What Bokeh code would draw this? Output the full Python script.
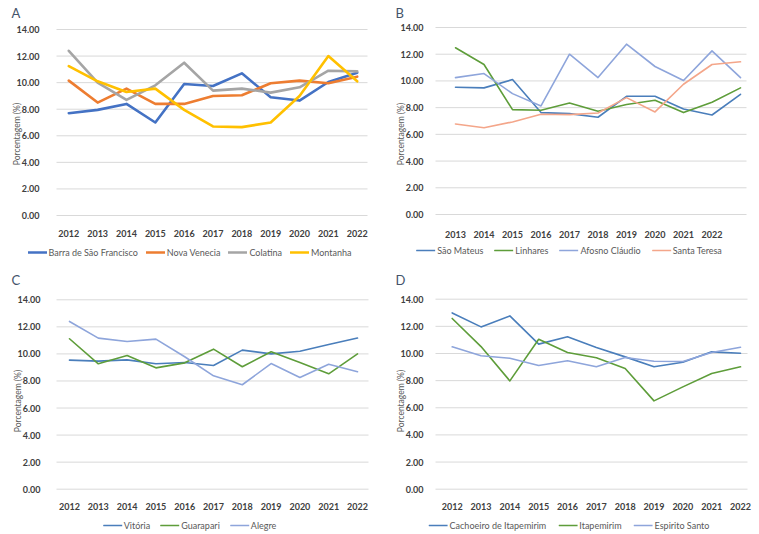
from bokeh.plotting import figure
from bokeh.models import (Range1d, FixedTicker, PrintfTickFormatter,
                          Legend, LegendItem, Label)
from bokeh.layouts import column, row
from bokeh.embed import file_html
from bokeh.resources import INLINE

# ---------------- data ----------------
years = ["2012", "2013", "2014", "2015", "2016", "2017", "2018", "2019", "2020", "2021", "2022"]
years_b = ["2013", "2014", "2015", "2016", "2017", "2018", "2019", "2020", "2021", "2022", " "]
y_ticks = [0, 2, 4, 6, 8, 10, 12, 14]

# Panel A
barra_sao_francisco = [7.70, 7.95, 8.40, 7.00, 9.90, 9.75, 10.70, 8.90, 8.65, 10.05, 10.75]
nova_venecia = [10.15, 8.50, 9.55, 8.40, 8.40, 9.00, 9.05, 9.95, 10.15, 9.95, 10.45]
colatina = [12.40, 10.00, 8.70, 9.80, 11.50, 9.40, 9.55, 9.25, 9.65, 10.90, 10.85]
montanha = [11.25, 10.10, 9.30, 9.55, 7.95, 6.70, 6.65, 7.00, 9.00, 12.00, 10.10]

# Panel B
sao_mateus = [9.53, 9.48, 10.10, 7.63, 7.55, 7.28, 8.85, 8.85, 7.90, 7.45, 9.00]
linhares = [12.48, 11.23, 7.85, 7.80, 8.35, 7.73, 8.23, 8.55, 7.63, 8.40, 9.48]
afosno_claudio = [10.25, 10.55, 9.05, 8.13, 12.00, 10.25, 12.75, 11.08, 10.03, 12.25, 10.25]
santa_teresa = [6.78, 6.50, 6.93, 7.50, 7.48, 7.60, 8.75, 7.68, 9.75, 11.23, 11.43]

# Panel C
vitoria = [9.54, 9.47, 9.56, 9.27, 9.37, 9.14, 10.28, 10.00, 10.20, 10.70, 11.17]
guarapari = [11.12, 9.27, 9.88, 8.97, 9.34, 10.35, 9.05, 10.16, 9.37, 8.53, 10.00]
alegre = [12.40, 11.17, 10.92, 11.09, 9.79, 8.38, 7.72, 9.29, 8.26, 9.24, 8.68]

# Panel D
cachoeiro = [12.99, 11.96, 12.77, 10.69, 11.23, 10.44, 9.75, 9.02, 9.36, 10.12, 10.02]
itapemirim = [12.58, 10.51, 7.98, 11.05, 10.07, 9.68, 8.89, 6.51, 7.54, 8.52, 9.02]
espirito_santo = [10.49, 9.83, 9.65, 9.11, 9.46, 9.02, 9.70, 9.43, 9.41, 10.07, 10.46]

FONT = "Lato"
TXT = "#404040"
H = 267


def make_panel(letter, cats, names, series, colors, lw, width,
               cx0, dcx, top_px, zero_px, grid_px, yaxis_px, letter_px,
               leg_margin, leg_spacing):
    # pixel layout -> data ranges (plot frame covers the whole panel)
    x_lo = -cx0 / dcx
    x_hi = (width - cx0) / dcx
    s = (zero_px - top_px) / 14.0
    y_hi = 14 + top_px / s
    y_lo = -(H - zero_px) / s

    xs = list(range(len(cats)))
    p = figure(x_range=Range1d(x_lo, x_hi), y_range=Range1d(y_lo, y_hi),
               width=width, height=H,
               min_border_left=0, min_border_right=0,
               min_border_top=0, min_border_bottom=0,
               output_backend="svg", toolbar_location=None, tools="")
    p.outline_line_color = None
    p.background_fill_color = "white"
    p.border_fill_color = "white"
    p.grid.visible = False

    p.add_layout(Label(x=x_lo + letter_px[0] / dcx, y=y_hi - letter_px[1] / s,
                       text=letter, text_font=FONT, text_font_size="13px",
                       text_color="#44546A", text_baseline="top", text_align="left"))

    # horizontal gridlines over the plot area only
    g0 = (grid_px[0] - cx0) / dcx
    g1 = (grid_px[1] - cx0) / dcx
    p.segment(x0=[g0] * len(y_ticks), x1=[g1] * len(y_ticks),
              y0=y_ticks, y1=y_ticks, line_color="#d9d9d9", line_width=1)

    for ax in (p.xaxis[0], p.yaxis[0]):
        ax.axis_line_color = None
        ax.major_tick_line_color = None
        ax.minor_tick_line_color = None
        ax.major_label_text_font = FONT
        ax.major_label_text_font_size = "9px"
        ax.major_label_text_font_style = "bold"
        ax.major_label_text_color = TXT

    p.yaxis[0].fixed_location = (yaxis_px - cx0) / dcx
    p.yaxis[0].ticker = FixedTicker(ticks=y_ticks)
    p.yaxis[0].formatter = PrintfTickFormatter(format="%.2f")
    p.yaxis[0].major_label_standoff = 9
    p.yaxis[0].axis_label = "Porcentagem (%)"
    p.yaxis[0].axis_label_text_font = FONT
    p.yaxis[0].axis_label_text_font_size = "8.5px"
    p.yaxis[0].axis_label_text_font_style = "normal"
    p.yaxis[0].axis_label_text_color = "#595959"
    p.yaxis[0].axis_label_standoff = -9

    p.xaxis[0].fixed_location = 0
    p.xaxis[0].ticker = FixedTicker(ticks=xs)
    p.xaxis[0].major_label_overrides = {i: c for i, c in zip(xs, cats)}
    p.xaxis[0].major_label_standoff = 8

    items = []
    for name, vals, col in zip(names, series, colors):
        r = p.line(x=xs, y=vals, line_color=col, line_width=lw,
                   line_join="round", line_cap="round")
        items.append(LegendItem(label=name, renderers=[r]))

    legend = Legend(items=items, orientation="horizontal", location="bottom_center",
                    margin=leg_margin, padding=2, spacing=leg_spacing,
                    glyph_width=19, glyph_height=12, label_height=12,
                    label_standoff=2, border_line_color=None,
                    background_fill_alpha=0,
                    label_text_font=FONT, label_text_font_size="9px",
                    label_text_color="#595959")
    p.add_layout(legend, "center")
    return p


pA = make_panel("A", years,
                ["Barra de São Francisco", "Nova Venecia", "Colatina", "Montanha"],
                [barra_sao_francisco, nova_venecia, colatina, montanha],
                ["#4472C4", "#ED7D31", "#A5A5A5", "#FFC000"], 2.6,
                379, 68.3, 28.84, 29, 215, (56, 367), 54, (11, 4), 9, 8)
pB = make_panel("B", years_b,
                ["São Mateus", "Linhares", "Afosno Cláudio", "Santa Teresa"],
                [sao_mateus, linhares, afosno_claudio, santa_teresa],
                ["#4A7EBB", "#5E9D3A", "#8EA5DB", "#F4A68A"], 1.6,
                380, 76, 28.5, 27, 214, (56, 367), 59, (16, 4), 11, 11)
pC = make_panel("C", years,
                ["Vitória", "Guarapari", "Alegre"],
                [vitoria, guarapari, alegre],
                ["#4A7EBB", "#5E9D3A", "#8EA5DB"], 1.6,
                379, 69, 28.8, 32.3, 221.7, (56, 368), 55, (11, 4), 3, 10)
pD = make_panel("D", years,
                ["Cachoeiro de Itapemirim", "Itapemirim", "Espirito Santo"],
                [cachoeiro, itapemirim, espirito_santo],
                ["#4A7EBB", "#5E9D3A", "#8EA5DB"], 1.6,
                380, 72.7, 28.83, 31.7, 221.7, (56, 368), 59, (16, 4), 3, 12)

layout = column(row(pA, pB), row(pC, pD))

with open("out.html", "w") as f:
    f.write(file_html(layout, INLINE))
